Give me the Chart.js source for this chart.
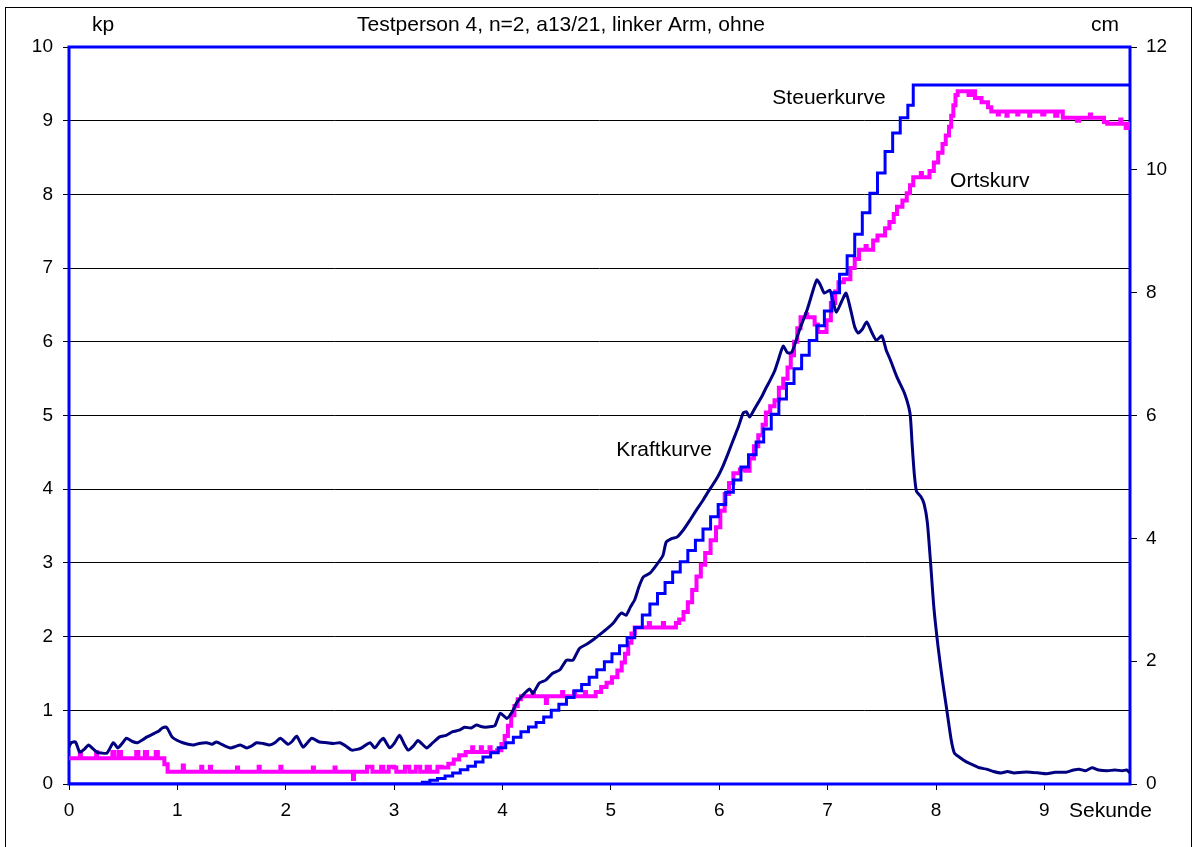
<!DOCTYPE html>
<html>
<head>
<meta charset="utf-8">
<script src="https://cdn.jsdelivr.net/npm/chart.js@4"></script>
<style>
  body { margin: 0; background: #fff; }
  canvas { display: block; }
</style>
</head>
<body>
<canvas id="kraft" width="1194" height="847"></canvas>
<script>
// Kraftkurve (kp, linke Achse)
const kraftT = [0.00,0.02,0.06,0.10,0.14,0.18,0.22,0.26,0.30,0.35,0.41,0.45,0.49,0.53,0.58,0.63,0.68,0.72,0.79,0.83,0.86,0.90,0.95,1.00,1.05,1.10,1.15,1.20,1.27,1.32,1.36,1.42,1.49,1.54,1.58,1.64,1.69,1.73,1.79,1.85,1.90,1.95,2.02,2.06,2.10,2.16,2.20,2.24,2.31,2.38,2.44,2.50,2.55,2.61,2.66,2.70,2.75,2.78,2.82,2.87,2.90,2.96,3.00,3.05,3.09,3.13,3.18,3.22,3.26,3.30,3.35,3.42,3.48,3.54,3.60,3.65,3.71,3.76,3.80,3.84,3.90,3.93,3.98,4.04,4.09,4.13,4.19,4.25,4.28,4.34,4.40,4.46,4.53,4.59,4.65,4.71,4.78,4.84,4.90,4.96,5.02,5.07,5.10,5.14,5.18,5.22,5.26,5.30,5.36,5.42,5.48,5.51,5.56,5.61,5.67,5.73,5.79,5.85,5.90,5.94,5.99,6.03,6.08,6.13,6.18,6.22,6.25,6.28,6.33,6.39,6.43,6.47,6.51,6.54,6.59,6.63,6.67,6.74,6.81,6.87,6.90,6.93,6.97,7.02,7.05,7.08,7.13,7.17,7.21,7.25,7.28,7.32,7.36,7.41,7.45,7.50,7.54,7.58,7.64,7.71,7.76,7.78,7.80,7.82,7.86,7.89,7.92,7.95,7.98,8.02,8.06,8.10,8.14,8.17,8.22,8.28,8.34,8.40,8.47,8.53,8.60,8.66,8.72,8.80,8.87,8.95,9.02,9.10,9.20,9.27,9.32,9.38,9.44,9.50,9.58,9.65,9.72,9.76,9.79];
const kraftKp = [0.50,0.56,0.57,0.43,0.47,0.53,0.48,0.43,0.42,0.42,0.56,0.49,0.55,0.62,0.58,0.56,0.60,0.64,0.69,0.72,0.76,0.77,0.64,0.59,0.56,0.54,0.53,0.55,0.56,0.54,0.57,0.53,0.49,0.51,0.53,0.49,0.52,0.56,0.55,0.53,0.56,0.62,0.54,0.58,0.65,0.50,0.56,0.62,0.57,0.56,0.55,0.56,0.52,0.46,0.47,0.49,0.54,0.56,0.49,0.58,0.62,0.49,0.55,0.66,0.55,0.46,0.52,0.59,0.54,0.49,0.55,0.64,0.66,0.71,0.73,0.77,0.76,0.80,0.78,0.77,0.78,0.79,0.96,0.89,0.98,1.10,1.21,1.29,1.23,1.37,1.41,1.50,1.55,1.68,1.68,1.84,1.90,1.96,2.03,2.10,2.18,2.28,2.32,2.29,2.40,2.50,2.68,2.81,2.86,2.97,3.10,3.28,3.33,3.35,3.45,3.58,3.72,3.85,3.97,4.06,4.18,4.30,4.48,4.67,4.86,5.03,5.05,4.98,5.10,5.25,5.37,5.48,5.60,5.73,5.94,5.85,5.86,6.16,6.43,6.72,6.84,6.78,6.66,6.70,6.55,6.40,6.55,6.66,6.45,6.20,6.12,6.17,6.27,6.12,6.02,6.08,5.89,5.75,5.52,5.30,5.03,4.60,4.20,3.97,3.90,3.80,3.55,3.00,2.40,1.85,1.40,1.00,0.60,0.42,0.36,0.30,0.26,0.22,0.20,0.17,0.15,0.17,0.15,0.16,0.16,0.15,0.14,0.16,0.16,0.19,0.20,0.18,0.22,0.19,0.18,0.19,0.18,0.19,0.15];

// Steuerkurve (cm, rechte Achse) - Stufen
const steuerT = [0.00,3.19,3.26,3.33,3.40,3.47,3.54,3.61,3.68,3.75,3.82,3.89,3.96,4.03,4.10,4.17,4.24,4.31,4.38,4.45,4.52,4.59,4.66,4.73,4.80,4.87,4.94,5.01,5.08,5.15,5.22,5.29,5.36,5.43,5.50,5.57,5.64,5.71,5.78,5.85,5.92,5.99,6.06,6.13,6.20,6.27,6.34,6.41,6.48,6.55,6.62,6.69,6.76,6.83,6.90,6.97,7.04,7.11,7.18,7.25,7.32,7.39,7.46,7.53,7.60,7.67,7.74,7.79,9.79];
const steuerCm = [0.00,0.00,0.03,0.06,0.09,0.13,0.18,0.23,0.29,0.36,0.44,0.51,0.59,0.67,0.76,0.85,0.93,1.00,1.09,1.20,1.30,1.41,1.52,1.62,1.74,1.86,1.99,2.12,2.25,2.38,2.55,2.75,2.93,3.10,3.28,3.45,3.62,3.80,3.97,4.15,4.35,4.55,4.75,4.95,5.16,5.36,5.57,5.78,6.02,6.27,6.52,6.76,6.98,7.22,7.46,7.70,8.00,8.30,8.60,8.95,9.30,9.62,9.95,10.30,10.60,10.85,11.05,11.38,11.38];

// Ortskurve (cm, rechte Achse) - quantisiert
const ortT = [0.00,0.10,0.11,0.25,0.26,0.40,0.42,0.46,0.48,0.62,0.64,0.70,0.72,0.80,0.82,0.88,0.91,1.05,1.06,1.22,1.23,1.30,1.31,1.55,1.56,1.75,1.76,1.95,1.96,2.25,2.26,2.45,2.46,2.62,2.63,2.75,2.80,2.88,2.90,2.95,3.00,3.02,3.10,3.14,3.20,3.24,3.30,3.33,3.40,3.44,3.50,3.55,3.60,3.66,3.72,3.73,3.80,3.81,3.88,3.89,3.95,3.99,4.02,4.05,4.08,4.11,4.14,4.17,4.28,4.29,4.40,4.41,4.55,4.56,4.66,4.67,4.76,4.77,4.86,4.91,4.96,5.01,5.06,5.10,5.13,5.16,5.19,5.22,5.35,5.36,5.48,5.49,5.60,5.63,5.67,5.71,5.75,5.79,5.83,5.87,5.92,5.97,6.01,6.05,6.09,6.13,6.19,6.24,6.28,6.32,6.36,6.40,6.43,6.47,6.51,6.55,6.59,6.63,6.66,6.69,6.72,6.75,6.80,6.81,6.88,6.91,6.99,7.03,7.07,7.10,7.15,7.21,7.25,7.29,7.35,7.36,7.42,7.46,7.53,7.57,7.61,7.64,7.69,7.73,7.76,7.79,7.86,7.87,7.94,7.98,8.02,8.06,8.09,8.12,8.14,8.16,8.18,8.20,8.30,8.33,8.36,8.42,8.48,8.51,8.57,8.58,8.65,8.66,8.75,8.76,8.86,8.87,8.98,9.00,9.10,9.12,9.17,9.30,9.32,9.42,9.43,9.55,9.58,9.70,9.71,9.75,9.77,9.79];
const ortCm = [0.42,0.52,0.42,0.52,0.42,0.52,0.42,0.52,0.42,0.52,0.42,0.52,0.42,0.52,0.42,0.32,0.20,0.30,0.20,0.28,0.20,0.28,0.20,0.27,0.20,0.28,0.20,0.28,0.20,0.27,0.20,0.27,0.20,0.08,0.20,0.28,0.20,0.28,0.20,0.28,0.27,0.20,0.28,0.20,0.28,0.20,0.28,0.20,0.28,0.27,0.33,0.40,0.47,0.52,0.60,0.52,0.60,0.52,0.60,0.52,0.55,0.65,0.78,0.95,1.12,1.27,1.38,1.43,1.50,1.43,1.32,1.43,1.50,1.43,1.50,1.43,1.50,1.43,1.50,1.58,1.65,1.74,1.85,1.98,2.12,2.30,2.45,2.55,2.62,2.55,2.62,2.55,2.62,2.68,2.80,2.96,3.16,3.38,3.57,3.76,3.97,4.18,4.45,4.72,4.90,5.06,5.12,5.10,5.30,5.50,5.68,5.85,6.05,6.15,6.25,6.45,6.60,6.78,6.98,7.20,7.42,7.60,7.65,7.60,7.48,7.36,7.55,7.83,8.02,8.17,8.22,8.40,8.55,8.70,8.76,8.70,8.85,8.93,9.05,9.15,9.28,9.40,9.50,9.62,9.75,9.88,9.95,9.88,9.98,10.12,10.28,10.42,10.56,10.70,10.88,11.05,11.22,11.28,11.22,11.28,11.17,11.10,11.02,10.95,10.90,10.95,10.88,10.95,10.90,10.95,10.88,10.95,10.90,10.95,10.88,10.95,10.85,10.80,10.85,10.90,10.85,10.78,10.75,10.82,10.75,10.68,10.75,10.75];

const xTicks = [0, 1, 2, 3, 4, 5, 6, 7, 8, 9];
const titleText = "Testperson 4, n=2, a13/21, linker Arm, ohne";

const FONT = "'Liberation Sans', Arial, sans-serif";

function pairs(xs, ys) {
    return xs.map((x, i) => ({ x: x, y: ys[i] }));
}

const framePlugin = {
    id: "frame",
    beforeDatasetsDraw(chart) {
        const { ctx, chartArea: a } = chart;
        ctx.save();
        ctx.strokeStyle = "#0000FF";
        ctx.lineWidth = 3;
        ctx.strokeRect(a.left, a.top, a.right - a.left, a.bottom - a.top);
        ctx.restore();
    },
    afterDraw(chart) {
        const { ctx } = chart;
        const x = chart.scales.x, y = chart.scales.y;
        ctx.save();
        // outer border
        ctx.strokeStyle = "#000";
        ctx.lineWidth = 1;
        ctx.strokeRect(5.5, 7.5, 1186, 850);
        ctx.fillStyle = "#000";
        ctx.font = "21px " + FONT;
        ctx.textBaseline = "middle";
        ctx.textAlign = "left";
        ctx.fillText("kp", 92, 25);
        ctx.fillText("cm", 1091, 25);
        ctx.fillText("Sekunde", 1069, 811);
        ctx.textAlign = "center";
        ctx.fillText(titleText, 561, 25);
        ctx.textAlign = "left";
        ctx.fillText("Steuerkurve", x.getPixelForValue(6.49), y.getPixelForValue(9.31));
        ctx.fillText("Ortskurv", x.getPixelForValue(8.13), y.getPixelForValue(8.18));
        ctx.fillText("Kraftkurve", x.getPixelForValue(5.05), y.getPixelForValue(4.53));
        ctx.restore();
    }
};

const chart = new Chart(document.getElementById("kraft"), {
    type: "line",
    data: {
        datasets: [
            {
                label: "Steuerkurve",
                data: pairs(steuerT, steuerCm),
                yAxisID: "y2",
                borderColor: "#0000FF",
                borderWidth: 3,
                stepped: "before",
                pointRadius: 0,
                order: 1,
            },
            {
                label: "Kraftkurve",
                data: pairs(kraftT, kraftKp),
                yAxisID: "y",
                borderColor: "#000080",
                borderWidth: 3,
                tension: 0.2,
                pointRadius: 0,
                order: 2,
            },
            {
                label: "Ortskurv",
                data: pairs(ortT, ortCm),
                yAxisID: "y2",
                borderColor: "#FF00FF",
                borderWidth: 4,
                stepped: "before",
                pointRadius: 0,
                order: 3,
            },
        ],
    },
    options: {
        responsive: false,
        animation: false,
        layout: { padding: { top: 47, left: 0, right: 0, bottom: 0 } },
        plugins: {
            legend: { display: false },
            tooltip: { enabled: false },
        },
        scales: {
            x: {
                type: "linear",
                min: 0,
                max: 9.79,
                afterBuildTicks: (s) => { s.ticks = xTicks.map((v) => ({ value: v })); },
                afterFit: (s) => { s.height = 63; },
                grid: { drawOnChartArea: false, color: "#000", tickLength: 6 },
                border: { display: false },
                ticks: { color: "#000", font: { family: FONT, size: 19 }, padding: 9, maxRotation: 0, autoSkip: false },
            },
            y: {
                position: "left",
                min: 0,
                max: 10,
                afterFit: (s) => { s.width = 69; },
                grid: { color: "#000", lineWidth: 1, tickLength: 6 },
                border: { display: false },
                ticks: { stepSize: 1, color: "#000", font: { family: FONT, size: 19 }, padding: 10 },
            },
            y2: {
                position: "right",
                min: 0,
                max: 12,
                afterFit: (s) => { s.width = 64; },
                grid: { drawOnChartArea: false, color: "#000", tickLength: 7 },
                border: { display: false },
                ticks: { stepSize: 2, color: "#000", font: { family: FONT, size: 19 }, padding: 9 },
            },
        },
    },
    plugins: [framePlugin],
});
</script>
</body>
</html>
